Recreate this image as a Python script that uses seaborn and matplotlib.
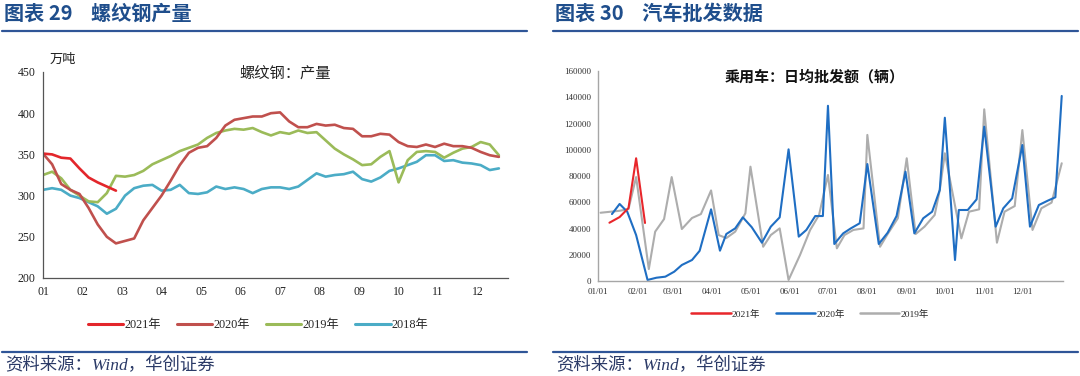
import matplotlib
matplotlib.use("Agg")
import matplotlib.pyplot as plt
import pandas as pd
import seaborn as sns
from matplotlib.lines import Line2D

# ---- left chart: rebar output (weekly, 万吨) ----
steel_2021 = [351, 350, 346, 345, 333, 322, 316, 311, 306]
steel_2020 = [351, 338, 314, 307, 302, 285, 265, 250, 242, 245, 248, 270, 285, 300, 318, 337, 352,
              358, 360, 370, 385, 392, 394, 396, 396, 400, 401, 390, 383, 383, 387, 385, 386, 382,
              381, 372, 372, 375, 374, 365, 360, 359, 362, 359, 363, 360, 360, 358, 353, 349, 347]
steel_2019 = [325, 329, 321, 307, 300, 293, 292, 303, 324, 323, 325, 330, 338, 343, 348, 354, 358,
              362, 370, 376, 379, 381, 380, 382, 377, 373, 377, 375, 379, 376, 377, 367, 357, 350,
              344, 337, 338, 347, 354, 316, 343, 353, 354, 353, 346, 352, 357, 359, 365, 362, 349]
steel_2018 = [307, 309, 307, 300, 297, 292, 287, 278, 284, 300, 309, 312, 313, 306, 307, 313, 303,
              302, 304, 311, 308, 310, 308, 303, 308, 310, 310, 308, 311, 319, 327, 323, 325, 326,
              329, 320, 317, 322, 330, 333, 337, 341, 349, 349, 342, 343, 340, 339, 337, 331, 333]
steel_years = ["2021年", "2020年", "2019年", "2018年"]
month_labels = ["01", "02", "03", "04", "05", "06", "07", "08", "09", "10", "11", "12"]

# ---- right chart: passenger car daily wholesale (day of year, 辆) ----
car_2021_day = [9, 17, 24, 30, 37]
car_2021 = [44400, 48700, 55600, 93500, 44200]
car_2020_day = [11, 17, 23, 30, 39, 46, 53, 60, 66, 74, 80, 89, 96, 101, 108, 114, 121, 129, 136, 143,
                150, 158, 164, 171, 177, 181, 186, 193, 199, 206, 212, 221, 228, 235, 242, 249, 256,
                263, 269, 273, 281, 284, 291, 298, 304, 313, 319, 326, 334, 340, 347, 354, 360, 365]
car_2020 = [51000, 58700, 52800, 35000, 800, 2500, 3300, 7100, 12200, 16000, 23000, 54600, 23100,
            35800, 40100, 48500, 41000, 29200, 41400, 48500, 100300, 33800, 38900, 49500, 49500,
            133500, 28200, 36300, 40100, 44000, 89100, 28200, 36800, 49500, 83300, 36300, 47800,
            52800, 69300, 124400, 16000, 54100, 54100, 62200, 117600, 41400, 55400, 63000, 103600,
            41400, 57900, 61200, 63800, 141000]
car_2019_day = [2, 10, 17, 24, 30, 40, 45, 52, 58, 66, 74, 81, 89, 95, 101, 108, 116, 120, 130, 136,
                143, 150, 159, 167, 174, 181, 188, 194, 201, 209, 212, 222, 228, 236, 243, 250, 257,
                265, 269, 273, 286, 292, 300, 304, 314, 320, 328, 334, 342, 349, 357, 365]
car_2019 = [52000, 52800, 53500, 54800, 79200, 9100, 37600, 47200, 79200, 39600, 48000, 51000, 69000,
            35000, 32700, 37600, 51600, 87100, 26100, 35000, 40100, 800, 19800, 38900, 50300, 80800,
            24900, 35000, 38900, 40100, 111300, 26100, 35800, 47800, 93500, 35800, 41400, 50300,
            69300, 97300, 32500, 52800, 54600, 130800, 29200, 52800, 57100, 115000, 38900, 55400,
            59700, 89700]
car_years = ["2021年", "2020年", "2019年"]
month_start_day = [0, 31, 59, 90, 120, 151, 181, 212, 243, 273, 304, 334]
date_labels = ["01/01", "02/01", "03/01", "04/01", "05/01", "06/01",
               "07/01", "08/01", "09/01", "10/01", "11/01", "12/01"]

steel_colors = ["#E3262B", "#C0504D", "#9BBB59", "#4BACC6"]
car_colors = ["#E8262B", "#1F6EC3", "#ADADAD"]
navy = "#1F4E8C"

sns.set_theme(style="white")
plt.rcParams["font.family"] = ["Liberation Serif", "Noto Sans CJK SC", "DejaVu Sans"]

frames = []
for year, vals in zip(steel_years, [steel_2021, steel_2020, steel_2019, steel_2018]):
    frames.append(pd.DataFrame({"week": range(len(vals)), "value": vals, "year": year}))
steel_df = pd.concat(frames, ignore_index=True)

frames = []
for year, days, vals in zip(car_years, [car_2021_day, car_2020_day, car_2019_day],
                            [car_2021, car_2020, car_2019]):
    frames.append(pd.DataFrame({"day": days, "value": vals, "year": year}))
car_df = pd.concat(frames, ignore_index=True)

W, H = 1080, 376
fig = plt.figure(figsize=(W / 100, H / 100), dpi=100)

ax1 = fig.add_axes([43 / W, 1 - 278 / H, (508 - 43) / W, (278 - 72) / H])
ax2 = fig.add_axes([598 / W, 1 - 281 / H, (1063 - 598) / W, (281 - 71) / H])

# draw in reverse so the newer years are on top
sns.lineplot(data=steel_df, x="week", y="value", hue="year", hue_order=steel_years[::-1],
             palette=steel_colors[::-1], linewidth=1.9, legend=False, ax=ax1)
sns.lineplot(data=car_df, x="day", y="value", hue="year", hue_order=car_years[::-1],
             palette=car_colors[::-1], linewidth=1.5, legend=False, ax=ax2)

# left axes styling
ax1.set_xlim(0, 51)
ax1.set_ylim(200, 450)
ax1.set_xticks([i * 52 / 12 for i in range(12)])
ax1.set_xticklabels(month_labels)
ax1.set_yticks([200, 250, 300, 350, 400, 450])
ax1.set_xlabel("")
ax1.set_ylabel("")
for side in ["top", "right"]:
    ax1.spines[side].set_visible(False)
for side in ["left", "bottom"]:
    ax1.spines[side].set_color("#555555")
    ax1.spines[side].set_linewidth(0.9)
ax1.tick_params(axis="both", direction="inout", length=5, width=0.8, color="#555555",
                labelsize=8.5, labelcolor="#222222", pad=3)
ax1.text(0.015, 1.03, "万吨", transform=ax1.transAxes, fontsize=9.5, color="#222222",
         family=["Noto Sans CJK SC"], va="bottom")
ax1.text(0.52, 0.995, "螺纹钢：产量", transform=ax1.transAxes, fontsize=11, color="#222222",
         family=["Noto Sans CJK SC"], ha="center", va="center")

# right axes styling
ax2.set_xlim(0, 366)
ax2.set_ylim(0, 160000)
ax2.set_xticks(month_start_day + [365])
ax2.set_xticklabels(date_labels + [""])
ax2.set_yticks(range(0, 160001, 20000))
ax2.set_xlabel("")
ax2.set_ylabel("")
for side in ["top", "right"]:
    ax2.spines[side].set_visible(False)
for side in ["left", "bottom"]:
    ax2.spines[side].set_color("#A6A6A6")
    ax2.spines[side].set_linewidth(1.0)
ax2.tick_params(axis="both", direction="out", length=3, width=0.8, color="#A6A6A6",
                labelsize=6.5, labelcolor="#333333", pad=2)
ax2.text(0.465, 0.975, "乘用车：日均批发额（辆）", transform=ax2.transAxes, fontsize=10.8,
         fontweight="bold", color="#111111", family=["Noto Sans CJK SC"], ha="center", va="center")

# legends
steel_handles = [Line2D([], [], color=c, lw=2.2) for c in steel_colors]
fig.legend(steel_handles, steel_years, loc="center", bbox_to_anchor=(258 / W, 1 - 325 / H),
           ncol=4, frameon=False, fontsize=8.8, handlelength=2.9, handletextpad=0.1,
           columnspacing=1.3, borderaxespad=0)
car_handles = [Line2D([], [], color=c, lw=1.8) for c in car_colors]
fig.legend(car_handles, car_years, loc="center", bbox_to_anchor=(810 / W, 1 - 314 / H),
           ncol=3, frameon=False, fontsize=6.8, handlelength=4.2, handletextpad=0.1,
           columnspacing=1.6, borderaxespad=0)

# panel titles, rules and source notes
for x0, x1, title in [(2, 527, "图表 29    螺纹钢产量"), (553, 1078, "图表 30    汽车批发数据")]:
    fig.text((x0 + 2) / W, 1 - 13 / H, title, fontsize=14.5, fontweight="bold", color=navy,
             family=["Noto Sans CJK SC"], va="center", ha="left")
    fig.add_artist(Line2D([x0 / W, x1 / W], [1 - 31 / H, 1 - 31 / H], color="#2F5597", lw=1.6))
    fig.add_artist(Line2D([x0 / W, x1 / W], [1 - 352 / H, 1 - 352 / H], color="#2F5597", lw=1.6))
    fig.text((x0 + 3) / W, 1 - 366 / H, "资料来源：Wind，华创证券", fontsize=12.5, style="italic",
             color="#2B3A67", family=["Liberation Serif", "Noto Sans CJK SC"], va="center", ha="left")

fig.savefig("out.png", dpi=100)
